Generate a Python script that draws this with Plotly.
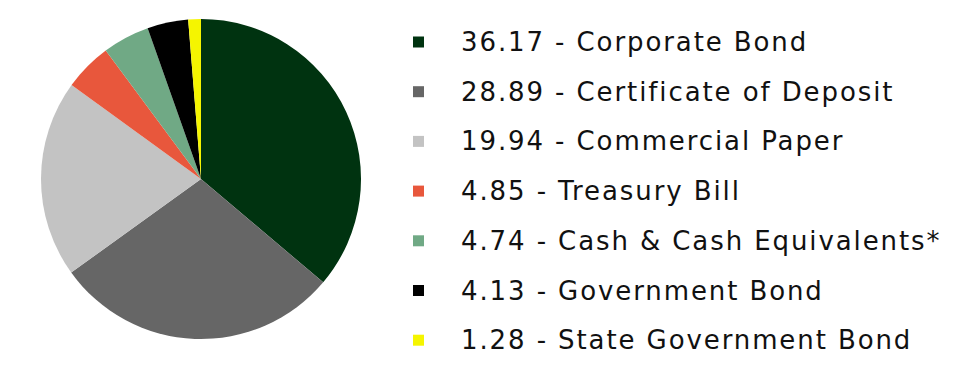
import plotly.graph_objects as go

W, H = 969, 370
categories = ["Corporate Bond", "Certificate of Deposit", "Commercial Paper",
              "Treasury Bill", "Cash & Cash Equivalents*", "Government Bond",
              "State Government Bond"]
values = [36.17, 28.89, 19.94, 4.85, 4.74, 4.13, 1.28]
colors = ["#003310", "#666666", "#c3c3c3", "#e8573c", "#70a985", "#000000", "#f5f500"]

fig = go.Figure()
fig.add_trace(go.Pie(
    labels=categories, values=values, sort=False, direction="clockwise",
    rotation=0, marker=dict(colors=colors, line=dict(width=0)),
    textinfo="none", hoverinfo="label+value", showlegend=False,
    domain=dict(x=[41 / W, 361 / W], y=[(H - 339) / H, (H - 19) / H]),
))

row0, step = 42, 49.7
shapes, annotations = [], []
for i, (c, v, col) in enumerate(zip(categories, values, colors)):
    yc = row0 + i * step
    shapes.append(dict(type="rect", xref="paper", yref="paper",
                       x0=413 / W, x1=424 / W, y0=1 - (yc + 5.5) / H, y1=1 - (yc - 5.5) / H,
                       fillcolor=col, line=dict(width=0)))
    annotations.append(dict(text=f'<span style="letter-spacing:1.9px">{v:.2f} - {c}</span>',
                            xref="paper", yref="paper",
                            x=459 / W, y=1 - yc / H, xanchor="left", yanchor="middle",
                            showarrow=False, font=dict(family="DejaVu Sans", size=26, color="#111111")))

fig.update_layout(width=W, height=H, margin=dict(l=0, r=0, t=0, b=0),
                  paper_bgcolor="white", plot_bgcolor="white",
                  shapes=shapes, annotations=annotations)
fig.write_html("out.html")
